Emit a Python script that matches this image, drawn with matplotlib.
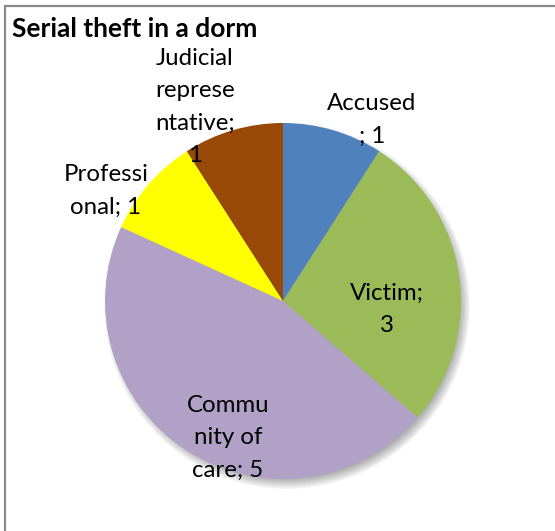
import matplotlib
matplotlib.use("Agg")
import matplotlib.pyplot as plt
from matplotlib.patches import Rectangle, Circle

# slice data
categories = ["Accused", "Victim", "Community of care", "Professional", "Judicial representative"]
values = [1, 3, 5, 1, 1]
colors = ["#4F81BD", "#9BBB59", "#B2A1C7", "#FFFF00", "#984807"]
# how each name is broken over lines in its label, and what joins it to the value
wrapped = ["Accused", "Victim", "Commu\nnity of\ncare", "Professi\nonal", "Judicial\nreprese\nntative"]
joins = ["\n; ", ";\n", "; ", "; ", ";\n"]

W, H = 555, 531
plt.rcParams["font.family"] = ["Lato", "DejaVu Sans"]

fig = plt.figure(figsize=(W / 100, H / 100), dpi=100)
ax = fig.add_axes([0, 0, 1, 1])

cx, cy, r = 283, H - 301, 178

# soft drop shadow under the pie
for i in range(12):
    ax.add_patch(Circle((cx + 4, cy - 5), r + 5 - i, color="#000000", alpha=0.03, lw=0, zorder=1))

wedges, _ = ax.pie(values, colors=colors, startangle=90, counterclock=False,
                   center=(cx, cy), radius=r, wedgeprops=dict(linewidth=0), frame=True)
for w in wedges:
    w.set_zorder(2)
ax.set_xlim(0, W)
ax.set_ylim(0, H)
ax.set_aspect("equal")
ax.axis("off")

# data labels
label_pos = [(372, 120), (387, 309), (228, 438), (106, 191), (195, 107)]
for name, sep, val, (x, y) in zip(wrapped, joins, values, label_pos):
    ax.text(x, H - y, f"{name}{sep}{val}", ha="center", va="center", fontsize=17.3,
            linespacing=1.65, color="black", zorder=5)

ax.text(12, H - 29, "Serial theft in a dorm", ha="left", va="center",
        fontsize=19, fontweight="bold", color="black", zorder=5)

# chart border
ax.add_patch(Rectangle((5, -20), W + 40, H - 6 + 20, fill=False,
                       edgecolor="#8A8A8A", linewidth=1.6, zorder=6, clip_on=True))

fig.savefig("out.png", dpi=100)
